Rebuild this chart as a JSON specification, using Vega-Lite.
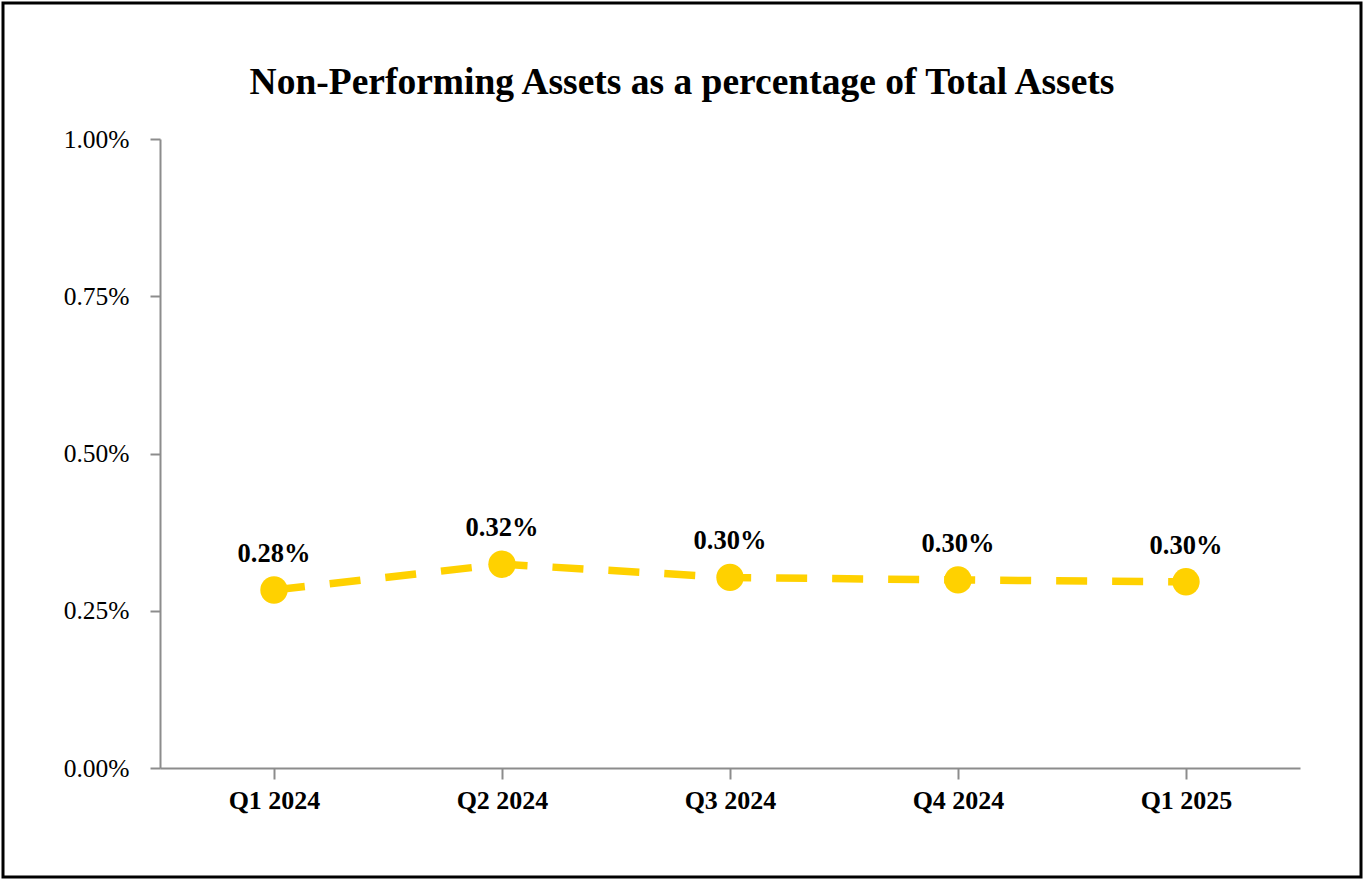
{
  "$schema": "https://vega.github.io/schema/vega-lite/v6.json",
  "width": 1358,
  "height": 874,
  "padding": 3,
  "autosize": {"type": "none"},
  "background": "white",
  "config": {
    "view": {"stroke": "black", "strokeWidth": 3},
    "font": "Liberation Serif"
  },
  "title": {
    "text": "Non-Performing Assets as a percentage of Total Assets",
    "font": "Liberation Serif",
    "fontSize": 37.5,
    "fontWeight": "bold",
    "color": "black",
    "anchor": "middle",
    "baseline": "alphabetic",
    "offset": -128
  },
  "data": {
    "values": [
      {"quarter": "Q1 2024", "npa": 0.00283},
      {"quarter": "Q2 2024", "npa": 0.00324},
      {"quarter": "Q3 2024", "npa": 0.00303},
      {"quarter": "Q4 2024", "npa": 0.00299},
      {"quarter": "Q1 2025", "npa": 0.00296}
    ]
  },
  "encoding": {
    "x": {
      "field": "quarter",
      "type": "ordinal",
      "sort": null,
      "scale": {"type": "point", "padding": 0.5, "range": [157, 1297]},
      "axis": {
        "title": null,
        "offset": -109,
        "labelAngle": 0,
        "labelFont": "Liberation Serif",
        "labelFontSize": 26,
        "labelFontWeight": "bold",
        "labelColor": "black",
        "labelPadding": 8,
        "tickSize": 11,
        "tickColor": "#8c8c8c",
        "tickWidth": 2,
        "domainColor": "#8c8c8c",
        "domainWidth": 2,
        "grid": false
      }
    },
    "y": {
      "field": "npa",
      "type": "quantitative",
      "scale": {"domain": [0, 0.01], "range": [765, 136], "nice": false, "zero": true},
      "axis": {
        "title": null,
        "offset": -157,
        "values": [0, 0.0025, 0.005, 0.0075, 0.01],
        "format": ".2%",
        "labelFont": "Liberation Serif",
        "labelFontSize": 25.5,
        "labelColor": "black",
        "labelPadding": 21,
        "tickSize": 10,
        "tickColor": "#8c8c8c",
        "tickWidth": 2,
        "domainColor": "#8c8c8c",
        "domainWidth": 2,
        "grid": false
      }
    }
  },
  "layer": [
    {
      "mark": {"type": "line", "color": "#FFD100", "strokeWidth": 7.5, "strokeDash": [31, 25], "strokeCap": "butt"}
    },
    {
      "mark": {"type": "point", "filled": true, "shape": "circle", "size": 750, "color": "#FFD100", "opacity": 1}
    },
    {
      "mark": {"type": "text", "font": "Liberation Serif", "fontSize": 26.5, "fontWeight": "bold", "color": "black", "baseline": "alphabetic", "dy": -28},
      "encoding": {
        "text": {"field": "npa", "type": "quantitative", "format": ".2%"}
      }
    }
  ]
}
